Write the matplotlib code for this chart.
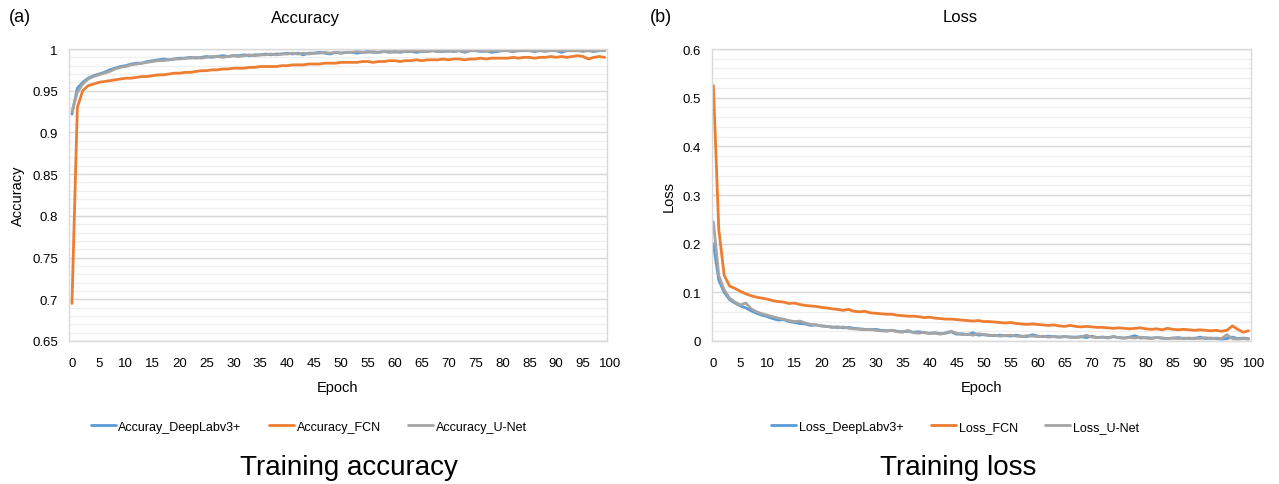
import matplotlib
matplotlib.use("Agg")
import matplotlib.pyplot as plt
import matplotlib.transforms as mtransforms
from matplotlib import font_manager
import numpy as np

plt.rcParams['font.family'] = ['Liberation Sans', 'DejaVu Sans']

epochs = list(range(100))

acc_deeplab = [0.922, 0.953, 0.960, 0.965, 0.968, 0.970, 0.972, 0.975, 0.977, 0.979,
               0.980, 0.982, 0.983, 0.983, 0.985, 0.986, 0.987, 0.988, 0.987, 0.988,
               0.989, 0.989, 0.990, 0.989, 0.990, 0.991, 0.990, 0.991, 0.992, 0.991,
               0.992, 0.992, 0.993, 0.992, 0.993, 0.993, 0.994, 0.993, 0.994, 0.994,
               0.995, 0.994, 0.995, 0.993, 0.995, 0.995, 0.996, 0.995, 0.994, 0.996,
               0.995, 0.996, 0.996, 0.995, 0.996, 0.997, 0.996, 0.996, 0.997, 0.996,
               0.997, 0.996, 0.997, 0.997, 0.996, 0.997, 0.997, 0.998, 0.997, 0.997,
               0.998, 0.997, 0.998, 0.996, 0.998, 0.998, 0.997, 0.998, 0.996, 0.997,
               0.998, 0.998, 0.997, 0.998, 0.998, 0.998, 0.997, 0.998, 0.998, 0.998,
               0.998, 0.996, 0.998, 0.998, 0.998, 0.999, 0.998, 0.997, 0.998, 0.998]
acc_fcn = [0.695, 0.930, 0.950, 0.956, 0.958, 0.960, 0.961, 0.962, 0.963, 0.964,
           0.965, 0.965, 0.966, 0.967, 0.967, 0.968, 0.969, 0.969, 0.970, 0.971,
           0.971, 0.972, 0.972, 0.973, 0.974, 0.974, 0.975, 0.975, 0.976, 0.976,
           0.977, 0.977, 0.977, 0.978, 0.978, 0.979, 0.979, 0.979, 0.979, 0.980,
           0.980, 0.981, 0.981, 0.981, 0.982, 0.982, 0.982, 0.983, 0.983, 0.983,
           0.984, 0.984, 0.984, 0.984, 0.985, 0.985, 0.984, 0.985, 0.985, 0.986,
           0.986, 0.985, 0.986, 0.986, 0.987, 0.986, 0.987, 0.987, 0.987, 0.988,
           0.987, 0.988, 0.988, 0.987, 0.988, 0.988, 0.989, 0.988, 0.989, 0.989,
           0.989, 0.989, 0.990, 0.989, 0.990, 0.990, 0.989, 0.990, 0.990, 0.991,
           0.990, 0.991, 0.990, 0.991, 0.992, 0.991, 0.988, 0.990, 0.991, 0.990]
acc_unet = [0.925, 0.948, 0.958, 0.964, 0.967, 0.969, 0.971, 0.973, 0.976, 0.978,
            0.979, 0.981, 0.982, 0.983, 0.984, 0.985, 0.986, 0.986, 0.987, 0.988,
            0.988, 0.989, 0.989, 0.990, 0.989, 0.990, 0.991, 0.991, 0.990, 0.991,
            0.992, 0.991, 0.992, 0.993, 0.992, 0.993, 0.993, 0.994, 0.993, 0.994,
            0.994, 0.995, 0.994, 0.995, 0.994, 0.995, 0.995, 0.996, 0.995, 0.996,
            0.995, 0.996, 0.996, 0.997, 0.996, 0.996, 0.997, 0.996, 0.997, 0.997,
            0.996, 0.997, 0.997, 0.997, 0.998, 0.997, 0.997, 0.998, 0.997, 0.998,
            0.997, 0.998, 0.998, 0.997, 0.998, 0.998, 0.998, 0.997, 0.998, 0.998,
            0.998, 0.998, 0.997, 0.998, 0.998, 0.998, 0.998, 0.998, 0.997, 0.998,
            0.998, 0.998, 0.998, 0.998, 0.998, 0.997, 0.998, 0.998, 0.998, 0.998]

loss_deeplab = [0.200, 0.125, 0.100, 0.085, 0.078, 0.072, 0.068, 0.062, 0.057, 0.053,
                0.050, 0.046, 0.043, 0.044, 0.040, 0.038, 0.036, 0.035, 0.032, 0.033,
                0.031, 0.030, 0.028, 0.029, 0.027, 0.028, 0.026, 0.025, 0.024, 0.023,
                0.024, 0.022, 0.021, 0.022, 0.020, 0.019, 0.020, 0.018, 0.019, 0.017,
                0.016, 0.017, 0.015, 0.016, 0.019, 0.014, 0.015, 0.013, 0.017, 0.012,
                0.013, 0.012, 0.011, 0.012, 0.011, 0.010, 0.012, 0.010, 0.009, 0.013,
                0.010, 0.009, 0.010, 0.009, 0.008, 0.009, 0.008, 0.008, 0.009, 0.007,
                0.010, 0.007, 0.008, 0.007, 0.009, 0.007, 0.006, 0.008, 0.011, 0.006,
                0.007, 0.006, 0.007, 0.006, 0.005, 0.006, 0.007, 0.005, 0.006, 0.005,
                0.008, 0.005, 0.006, 0.005, 0.004, 0.005, 0.008, 0.005, 0.006, 0.005]
loss_fcn = [0.525, 0.230, 0.135, 0.113, 0.108, 0.102, 0.097, 0.093, 0.090, 0.088,
            0.086, 0.083, 0.081, 0.080, 0.077, 0.078, 0.075, 0.073, 0.072, 0.071,
            0.069, 0.068, 0.066, 0.065, 0.063, 0.065, 0.061, 0.060, 0.061, 0.058,
            0.057, 0.056, 0.055, 0.055, 0.053, 0.052, 0.051, 0.051, 0.050, 0.048,
            0.049, 0.047, 0.046, 0.045, 0.045, 0.044, 0.043, 0.042, 0.041, 0.042,
            0.040, 0.040, 0.039, 0.038, 0.037, 0.038, 0.036, 0.035, 0.034, 0.035,
            0.034, 0.033, 0.032, 0.033, 0.031, 0.030, 0.032, 0.030, 0.029, 0.030,
            0.029, 0.028, 0.028, 0.027, 0.026, 0.027, 0.026, 0.025, 0.026, 0.027,
            0.025, 0.024, 0.025, 0.023, 0.026, 0.024, 0.023, 0.024, 0.023, 0.022,
            0.023, 0.022, 0.021, 0.022, 0.020, 0.022, 0.031, 0.024, 0.018, 0.021]
loss_unet = [0.245, 0.135, 0.105, 0.088, 0.080, 0.074, 0.078, 0.066, 0.060, 0.056,
             0.053, 0.050, 0.047, 0.045, 0.042, 0.040, 0.041, 0.037, 0.034, 0.033,
             0.031, 0.030, 0.029, 0.027, 0.029, 0.026, 0.025, 0.024, 0.023, 0.024,
             0.022, 0.021, 0.020, 0.022, 0.019, 0.018, 0.022, 0.017, 0.016, 0.018,
             0.015, 0.016, 0.014, 0.017, 0.020, 0.016, 0.013, 0.014, 0.012, 0.015,
             0.013, 0.011, 0.012, 0.010, 0.011, 0.012, 0.010, 0.009, 0.011, 0.010,
             0.009, 0.010, 0.008, 0.009, 0.008, 0.009, 0.008, 0.007, 0.008, 0.012,
             0.008, 0.007, 0.008, 0.006, 0.009, 0.007, 0.006, 0.007, 0.006, 0.008,
             0.006, 0.005, 0.007, 0.006, 0.005, 0.006, 0.005, 0.006, 0.005, 0.006,
             0.005, 0.007, 0.005, 0.006, 0.005, 0.013, 0.005, 0.004, 0.005, 0.004]

x_tick_values = list(range(0, 101, 5))
x_tick_labels = [str(v) for v in x_tick_values]
acc_yticks = [0.65, 0.7, 0.75, 0.8, 0.85, 0.9, 0.95, 1.0]
acc_ytick_labels = ['0.65', '0.7', '0.75', '0.8', '0.85', '0.9', '0.95', '1']
loss_yticks = [0, 0.1, 0.2, 0.3, 0.4, 0.5, 0.6]
loss_ytick_labels = ['0', '0.1', '0.2', '0.3', '0.4', '0.5', '0.6']

acc_names = ['Accuray_DeepLabv3+', 'Accuracy_FCN', 'Accuracy_U-Net']
loss_names = ['Loss_DeepLabv3+', 'Loss_FCN', 'Loss_U-Net']
colors = ['#5B9BD5', '#ED7D31', '#A5A5A5']

installed = {f.name for f in font_manager.fontManager.ttflist}
if 'Liberation Sans Narrow' in installed:
    big_family, big_size = 'Liberation Sans Narrow', 22
else:
    big_family, big_size = 'Liberation Sans', 20

W, H = 1279, 485
fig = plt.figure(figsize=(W / 100, H / 100), dpi=100)


def px_axes(x0, x1, ytop, ybot):
    return fig.add_axes([x0 / W, 1 - ybot / H, (x1 - x0) / W, (ybot - ytop) / H])


def style(ax, ymin, ymax, minor, yticks, ylabels, xlim):
    ax.set_xlim(*xlim)
    ax.set_ylim(ymin, ymax)
    for v in np.arange(ymin, ymax + 1e-9, minor):
        ax.axhline(v, color='#efefef', lw=0.9, zorder=0)
    for v in yticks:
        ax.axhline(v, color='#d9d9d9', lw=1.0, zorder=0.5)
    ax.set_yticks(yticks)
    ax.set_yticklabels(ylabels, fontsize=9.5)
    ax.set_xticks([])
    ax.tick_params(axis='y', length=0, pad=8)
    for s in ax.spines.values():
        s.set_color('#d9d9d9')
        s.set_linewidth(1.0)
    trans = mtransforms.blended_transform_factory(ax.transData, ax.transAxes)
    for v, lab in zip(x_tick_values, x_tick_labels):
        ax.text(v, -0.055, lab, transform=trans, ha='center', va='top',
                fontsize=9.5, clip_on=False)


leg_kw = dict(ncol=3, frameon=False, fontsize=9, handlelength=2.0,
              handletextpad=0.2, columnspacing=2.2)

# Left: accuracy
ax1 = px_axes(69, 607, 50, 342)
style(ax1, 0.65, 1.0, 0.01, acc_yticks, acc_ytick_labels, (-0.55, 99.45))
for vals, c, n in zip([acc_deeplab, acc_fcn, acc_unet], colors, acc_names):
    ax1.plot(epochs, vals, color=c, lw=2.0, label=n, solid_capstyle='round')
ax1.set_xlabel('Epoch', fontsize=10.5, labelpad=28)
ax1.set_ylabel('Accuracy', fontsize=10.5, labelpad=5)
ax1.legend(loc='upper center', bbox_to_anchor=(0.446, -0.235), **leg_kw)

# Right: loss
ax2 = px_axes(712, 1251, 50, 342)
style(ax2, 0.0, 0.6, 0.02, loss_yticks, loss_ytick_labels, (-0.25, 99.45))
for vals, c, n in zip([loss_deeplab, loss_fcn, loss_unet], colors, loss_names):
    ax2.plot(epochs, vals, color=c, lw=2.0, label=n, solid_capstyle='round')
ax2.set_xlabel('Epoch', fontsize=10.5, labelpad=28)
ax2.set_ylabel('Loss', fontsize=10.5, labelpad=5)
ax2.legend(loc='upper center', bbox_to_anchor=(0.451, -0.235), **leg_kw)

# Titles and panel labels
fig.text(20 / W, 1 - 18 / H, '(a)', ha='center', va='center', fontsize=13)
fig.text(305 / W, 1 - 18 / H, 'Accuracy', ha='center', va='center', fontsize=12)
fig.text(661 / W, 1 - 18 / H, '(b)', ha='center', va='center', fontsize=13)
fig.text(960 / W, 1 - 18 / H, 'Loss', ha='center', va='center', fontsize=12)

fig.text(349 / W, 1 - 468 / H, 'Training accuracy', ha='center', va='center',
         fontsize=big_size, family=big_family)
fig.text(958 / W, 1 - 468 / H, 'Training loss', ha='center', va='center',
         fontsize=big_size, family=big_family)

fig.savefig('out.png', dpi=100)
